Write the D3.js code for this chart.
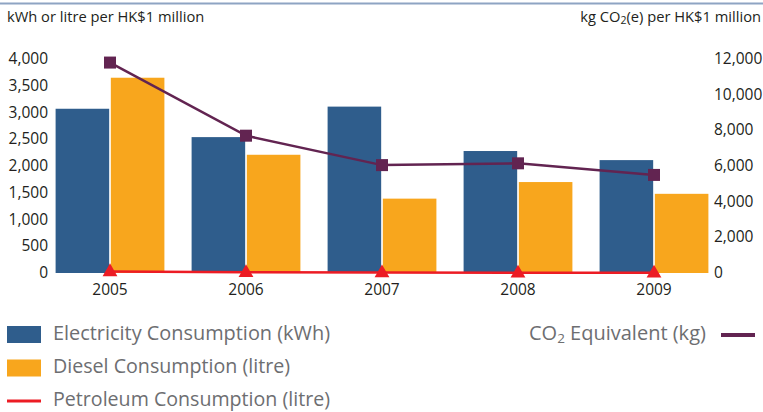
<!DOCTYPE html>
<html>
<head>
<meta charset="utf-8">
<script src="https://cdnjs.cloudflare.com/ajax/libs/d3/7.8.5/d3.min.js"></script>
<style>
  body { margin: 0; background: #fff; }
  text { font-family: "Open Sans", "Noto Sans", sans-serif; }
</style>
</head>
<body>
<div id="chart"></div>
<script>
var years = ["2005", "2006", "2007", "2008", "2009"];
var electricity = [3070, 2540, 3110, 2280, 2110];
var diesel = [3650, 2210, 1390, 1700, 1480];
var petroleum = [30, 15, 8, 5, 5];
var co2 = [11800, 7700, 6050, 6150, 5500];
var leftTicks = [0, 500, 1000, 1500, 2000, 2500, 3000, 3500, 4000];
var rightTicks = [0, 2000, 4000, 6000, 8000, 10000, 12000];

var width = 763, height = 412;
var colors = { elec: "#2f5d8c", diesel: "#f8a61d", petrol: "#ec1c24", co2: "#622451" };

var svg = d3.select("#chart").append("svg")
    .attr("width", width)
    .attr("height", height);

// thin rule across the top
svg.append("line")
    .attr("x1", 0).attr("x2", width)
    .attr("y1", 3.5).attr("y2", 3.5)
    .attr("stroke", "#8ea4c3")
    .attr("stroke-width", 2);

var x = d3.scaleBand().domain(years).range([42, 722]).paddingInner(0.2).paddingOuter(0.1);
var x1 = d3.scaleBand().domain(["elec", "diesel"]).range([0, x.bandwidth()]).paddingInner(0.03);
var yLeft = d3.scaleLinear().domain([0, 4000]).range([273, 59]);
var yRight = d3.scaleLinear().domain([0, 12000]).range([273, 59]);
var fmt = d3.format(",");

// axis titles
svg.append("text").attr("x", 7).attr("y", 18)
    .attr("dominant-baseline", "middle")
    .attr("font-size", 14.7).attr("fill", "#231f20")
    .text("kWh or litre per HK$1 million");

var rt = svg.append("text").attr("x", 761).attr("y", 18)
    .attr("text-anchor", "end")
    .attr("dominant-baseline", "middle")
    .attr("font-size", 14.7).attr("fill", "#231f20");
rt.append("tspan").text("kg CO");
rt.append("tspan").attr("font-size", 10.5).attr("dy", 3).text("2");
rt.append("tspan").attr("dy", -3).text("(e) per HK$1 million");

// tick labels
svg.selectAll(".lt").data(leftTicks).enter().append("text")
    .attr("x", 48).attr("y", function(d) { return yLeft(d) + 1; })
    .attr("text-anchor", "end").attr("dominant-baseline", "middle")
    .attr("font-size", 15.5).attr("fill", "#231f20")
    .text(function(d) { return fmt(d); });

svg.selectAll(".rt").data(rightTicks).enter().append("text")
    .attr("x", 714).attr("y", function(d) { return yRight(d) + 1; })
    .attr("dominant-baseline", "middle")
    .attr("font-size", 15.5).attr("fill", "#231f20")
    .text(function(d) { return fmt(d); });

// year labels
svg.selectAll(".yr").data(years).enter().append("text")
    .attr("x", function(d) { return x(d) + x.bandwidth() / 2; })
    .attr("y", 291)
    .attr("text-anchor", "middle").attr("dominant-baseline", "middle")
    .attr("font-size", 15.5).attr("fill", "#231f20")
    .text(function(d) { return d; });

// bars
var groups = svg.selectAll(".grp").data(years).enter().append("g")
    .attr("transform", function(d) { return "translate(" + x(d) + ",0)"; });

groups.append("rect")
    .attr("x", x1("elec")).attr("width", x1.bandwidth())
    .attr("y", function(d, i) { return yLeft(electricity[i]); })
    .attr("height", function(d, i) { return yLeft(0) - yLeft(electricity[i]); })
    .attr("fill", colors.elec);

groups.append("rect")
    .attr("x", x1("diesel")).attr("width", x1.bandwidth())
    .attr("y", function(d, i) { return yLeft(diesel[i]); })
    .attr("height", function(d, i) { return yLeft(0) - yLeft(diesel[i]); })
    .attr("fill", colors.diesel);

var cx = function(d, i) { return x(years[i]) + x.bandwidth() / 2; };

// petroleum line + triangles
var petLine = d3.line().x(cx).y(function(d) { return yLeft(d); });
svg.append("path").datum(petroleum)
    .attr("d", petLine)
    .attr("fill", "none").attr("stroke", colors.petrol).attr("stroke-width", 2.5);

svg.selectAll(".tri").data(petroleum).enter().append("path")
    .attr("d", d3.symbol().type(d3.symbolTriangle).size(95))
    .attr("transform", function(d, i) { return "translate(" + cx(d, i) + "," + (yLeft(d) + 0.5) + ")"; })
    .attr("fill", colors.petrol);

// CO2 line + squares
var co2Line = d3.line().x(cx).y(function(d) { return yRight(d); });
svg.append("path").datum(co2)
    .attr("d", co2Line)
    .attr("fill", "none").attr("stroke", colors.co2).attr("stroke-width", 2.5);

svg.selectAll(".sq").data(co2).enter().append("rect")
    .attr("x", function(d, i) { return cx(d, i) - 6; })
    .attr("y", function(d) { return yRight(d) - 6; })
    .attr("width", 12).attr("height", 12)
    .attr("fill", colors.co2);

// legend
var legend = [
  { label: "Electricity Consumption (kWh)", color: colors.elec, type: "box", y: 334.5, w: 277 },
  { label: "Diesel Consumption (litre)", color: colors.diesel, type: "box", y: 368, w: 237 },
  { label: "Petroleum Consumption (litre)", color: colors.petrol, type: "line", y: 401, w: 277 }
];

legend.forEach(function(l) {
  if (l.type == "box") {
    svg.append("rect").attr("x", 7).attr("y", l.y - 8.5).attr("width", 34).attr("height", 17).attr("fill", l.color);
  } else {
    svg.append("rect").attr("x", 7).attr("y", l.y - 1.5).attr("width", 34).attr("height", 3).attr("fill", l.color);
  }
  svg.append("text").attr("x", 53).attr("y", l.y)
      .attr("dominant-baseline", "middle")
      .attr("font-size", 20).attr("fill", "#6d6e71")
      .attr("textLength", l.w).attr("lengthAdjust", "spacingAndGlyphs")
      .text(l.label);
});

var ct = svg.append("text").attr("x", 529).attr("y", 335)
    .attr("dominant-baseline", "middle")
    .attr("font-size", 20).attr("fill", "#6d6e71");
ct.append("tspan").text("CO");
ct.append("tspan").attr("font-size", 13.5).attr("dy", 4).text("2");
ct.append("tspan").attr("dy", -4).text(" Equivalent (kg)");

svg.append("rect").attr("x", 721).attr("y", 333).attr("width", 34).attr("height", 4).attr("fill", colors.co2);
</script>
</body>
</html>
